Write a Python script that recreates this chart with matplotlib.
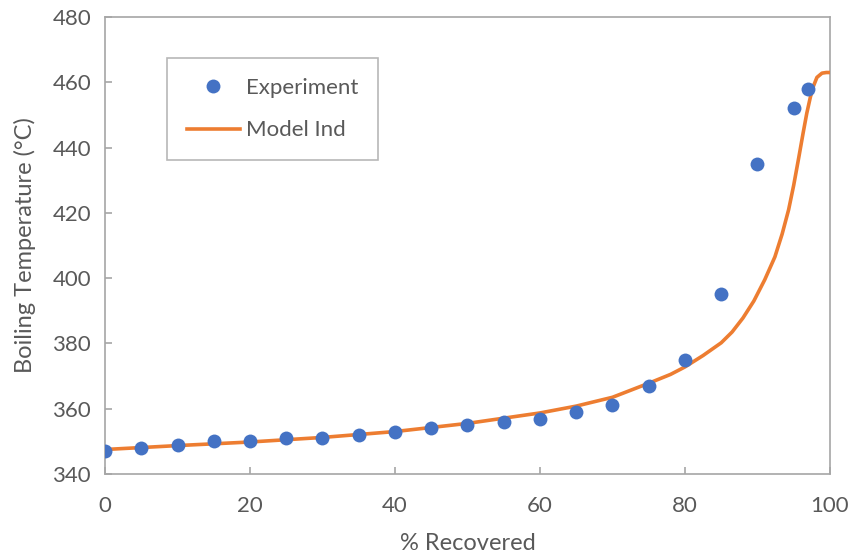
import matplotlib
matplotlib.use('Agg')
import matplotlib.pyplot as plt
from matplotlib.lines import Line2D

# measured distillation points
pct_exp = [0, 5, 10, 15, 20, 25, 30, 35, 40, 45, 50, 55, 60, 65, 70, 75, 80, 85, 90, 95, 97]
temp_exp = [347, 348, 349, 350, 350, 351, 351, 352, 353, 354, 355, 356, 357, 359, 361, 367, 375, 395, 435, 452, 458]

# model curve (independent model)
pct_mod = [0, 10, 20, 30, 40, 50, 60, 65, 70, 75, 78, 80, 82.5, 85, 86.5, 88, 89.5, 91, 92.4,
           93.4, 94.3, 95.0, 95.7, 96.3, 96.8, 97.3, 97.7, 98.2, 98.9, 99.5, 100]
temp_mod = [347.5, 348.7, 349.8, 351.2, 353, 355.5, 358.7, 360.8, 363.5, 367.8, 370.5, 372.8,
            376.3, 380.2, 383.5, 387.8, 393, 399.5, 406.5, 413.5, 421, 428.5, 437, 444.5, 450.5,
            455.5, 458.7, 461.5, 462.8, 463, 463]

xticks = [0, 20, 40, 60, 80, 100]
yticks = [340, 360, 380, 400, 420, 440, 460, 480]

plt.rcParams['font.family'] = ['Lato', 'DejaVu Sans']
txt = '#595959'
grey = '#A6A6A6'

fig = plt.figure(figsize=(8.53, 5.56), dpi=100)
ax = fig.add_axes([0.1231, 0.1475, 0.8499, 0.8219])

ax.plot(pct_mod, temp_mod, color='#ED7D31', lw=2.6, zorder=3, solid_capstyle='round')
ax.plot(pct_exp, temp_exp, 'o', color='#4472C4', ms=10, mec='none', zorder=4)

ax.set_xlim(0, 100)
ax.set_ylim(340, 480)
ax.set_xticks(xticks)
ax.set_yticks(yticks)
for s in ax.spines.values():
    s.set_color(grey)
    s.set_linewidth(1.2)
ax.tick_params(direction='in', length=5, width=1.2, color=grey, labelcolor=txt, labelsize=16)
ax.tick_params(axis='x', pad=16)
ax.tick_params(axis='y', pad=10)

ax.set_xlabel('% Recovered', fontsize=17, color=txt, labelpad=12)
ax.set_ylabel('Boiling Temperature (°C)', fontsize=17, color=txt, labelpad=12)

handles = [Line2D([], [], marker='o', ls='none', color='#4472C4', ms=10, mec='none'),
           Line2D([], [], color='#ED7D31', lw=2.6)]
leg = ax.legend(handles, ['Experiment', 'Model Ind'], loc='upper left',
                bbox_to_anchor=(0.085, 0.91), fontsize=16, frameon=True, fancybox=False,
                edgecolor=grey, handlelength=2.4, handletextpad=0.25, borderpad=0.9,
                labelspacing=1.0, borderaxespad=0)
leg.get_frame().set_linewidth(1.2)
for t in leg.get_texts():
    t.set_color(txt)

fig.savefig('out.png', dpi=100)
